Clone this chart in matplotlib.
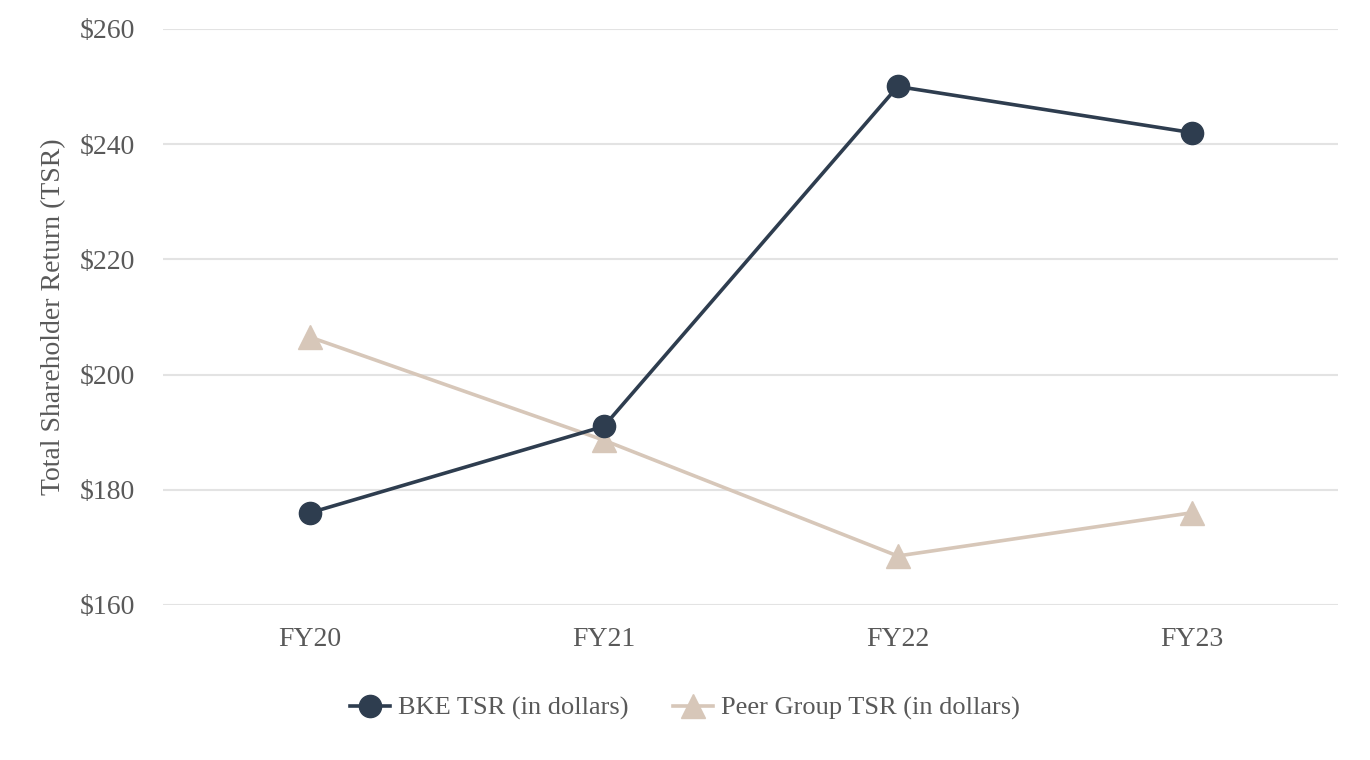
import matplotlib
matplotlib.use("Agg")
import matplotlib.pyplot as plt

years = ["FY20", "FY21", "FY22", "FY23"]
bke_tsr = [176, 191, 250, 242]
peer_tsr = [206.5, 188.6, 168.5, 176]
y_ticks = [160, 180, 200, 220, 240, 260]

plt.rcParams["font.family"] = ["Liberation Serif", "DejaVu Serif"]

navy = "#2E3D4F"
beige = "#D7C7B9"
text_col = "#595959"

fig = plt.figure(figsize=(13.7, 7.6), dpi=100)
ax = fig.add_axes([0.119, 0.204, 0.858, 0.758])

xs = range(len(years))
ax.plot(xs, peer_tsr, color=beige, lw=2.6, marker="^", markersize=17,
        label="Peer Group TSR (in dollars)", zorder=2)
ax.plot(xs, bke_tsr, color=navy, lw=2.6, marker="o", markersize=16,
        label="BKE TSR (in dollars)", zorder=3)

ax.set_xlim(-0.5, len(years) - 0.5)
ax.set_ylim(160, 260)
ax.set_xticks(list(xs))
ax.set_xticklabels(years)
ax.set_yticks(y_ticks)
ax.set_yticklabels([f"${v}" for v in y_ticks])
ax.tick_params(length=0, labelsize=20, labelcolor=text_col)
ax.tick_params(axis="y", pad=20)
ax.tick_params(axis="x", pad=16)
ax.grid(axis="y", color="#E3E3E3", lw=1.5)
ax.set_axisbelow(True)
for s in ax.spines.values():
    s.set_visible(False)
ax.set_ylabel("Total Shareholder Return (TSR)", fontsize=20, color=text_col, labelpad=10)

h, l = ax.get_legend_handles_labels()
fig.legend(h[::-1], l[::-1], loc="center", bbox_to_anchor=(0.5, 0.068), ncol=2,
           frameon=False, fontsize=19, labelcolor=text_col, columnspacing=1.7,
           handlelength=1.5, handletextpad=0.3)

fig.savefig("out.png", dpi=100)
